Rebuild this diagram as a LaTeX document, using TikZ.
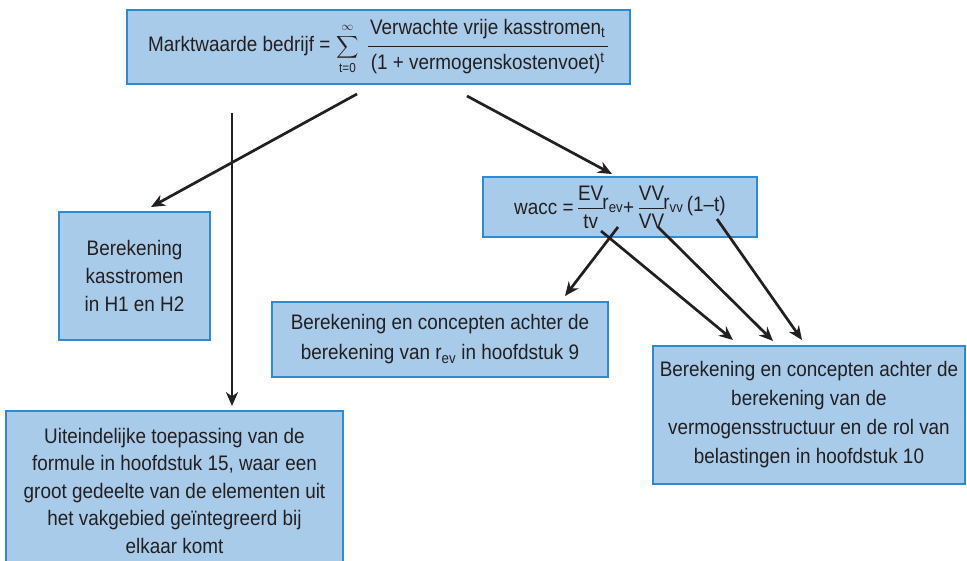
\documentclass[tikz,border=0pt]{standalone}
\usepackage{fontspec}
\usepackage{amsmath}
\usepackage{graphicx}
\setmainfont[FakeStretch=0.9]{Liberation Sans}
\usetikzlibrary{arrows.meta}
\definecolor{boxfill}{HTML}{A9CBEA}
\definecolor{boxline}{HTML}{2B8BD3}
\definecolor{ink}{HTML}{231F20}
\newcommand{\subtxt}[1]{\textsubscript{#1}}
\newcommand{\smalllim}[1]{\mbox{\fontsize{13}{13}\selectfont #1}}
\begin{document}
\begin{tikzpicture}[x=1pt,y=-1pt,
  font=\fontsize{21}{30}\selectfont,
  box/.style={draw=boxline, line width=1.5pt, fill=boxfill, inner sep=0pt,
              text=ink, align=center},
  arr/.style={draw=ink, line width=2.7pt, -{Stealth[length=14pt,width=12pt]}}]
\clip (0,0) rectangle (967,561);

% boxes
\node[box, minimum width=503, minimum height=74] (mv) at (378.5,47)
  {Marktwaarde bedrijf =\;$\mathop{\scalebox{0.75}{$\displaystyle\sum$}}\limits^{\smalllim{\rule[-3pt]{0pt}{3pt}$\infty$}}_{\smalllim{t=0}}$\hspace{8pt}%
   $\genfrac{}{}{1.2pt}{0}{\mbox{\rule[-8pt]{0pt}{8pt}Verwachte vrije kasstromen\subtxt{t}}}{\mbox{\hspace{3pt}\rule{0pt}{19pt}(1 + vermogenskostenvoet)\textsuperscript{t}\hspace{3pt}}}$};
\node[box, minimum width=274, minimum height=60] (wacc) at (620,207)
  {wacc =\hspace{-2pt}
   $\genfrac{}{}{0.8pt}{0}{\mbox{EV}}{\mbox{tv}}$\hspace{-2pt}\raisebox{5pt}{r\subtxt{ev}}+\,%
   $\genfrac{}{}{0.8pt}{0}{\mbox{VV}}{\mbox{VV}}$\hspace{-2pt}\raisebox{5pt}{r\subtxt{vv}}\,\raisebox{3pt}{(1--t)}};
\node[box, minimum width=151, minimum height=128, font=\fontsize{21}{28}\selectfont] (kas) at (134.5,276)
  {Berekening\\kasstromen\\in H1 en H2};
\node[box, minimum width=336, minimum height=75] (rev) at (440,339.5)
  {Berekening en concepten achter de\\berekening van r\subtxt{ev} in hoofdstuk 9};
\node[box, minimum width=312, minimum height=138, font=\fontsize{21}{29}\selectfont] (vs) at (809,415)
  {Berekening en concepten achter de\\berekening van de\\vermogensstructuur en de rol van\\belastingen in hoofdstuk 10};
\node[box, minimum width=337, minimum height=160, anchor=north, font=\fontsize{21}{27.5}\selectfont] (app) at (174.5,410)
  {Uiteindelijke toepassing van de\\formule in hoofdstuk 15, waar een\\groot gedeelte van de elementen uit\\het vakgebied geïntegreerd bij\\elkaar komt};

% connector end points
\coordinate (mvL) at (357,94);
\coordinate (mvR) at (467,96);
\coordinate (down) at (232,113);
\coordinate (kasT) at (151,207);
\coordinate (appT) at (232,406);
\coordinate (waccT) at (612,174);
\coordinate (tvA) at (618,227);
\coordinate (tvB) at (601,231);
\coordinate (vvA) at (658,227);
\coordinate (tA) at (717,219);
\coordinate (revT) at (565,296);
\coordinate (vsA) at (733,340);
\coordinate (vsB) at (773,341);
\coordinate (vsC) at (802,340);

% connectors
\draw[arr] (mvL) -- (kasT);
\draw[arr] (down) -- (appT);
\draw[arr] (mvR) -- (waccT);
\draw[arr] (tvA) -- (revT);
\draw[arr] (tvB) -- (vsA);
\draw[arr] (vvA) -- (vsB);
\draw[arr] (tA) -- (vsC);
\end{tikzpicture}
\end{document}
